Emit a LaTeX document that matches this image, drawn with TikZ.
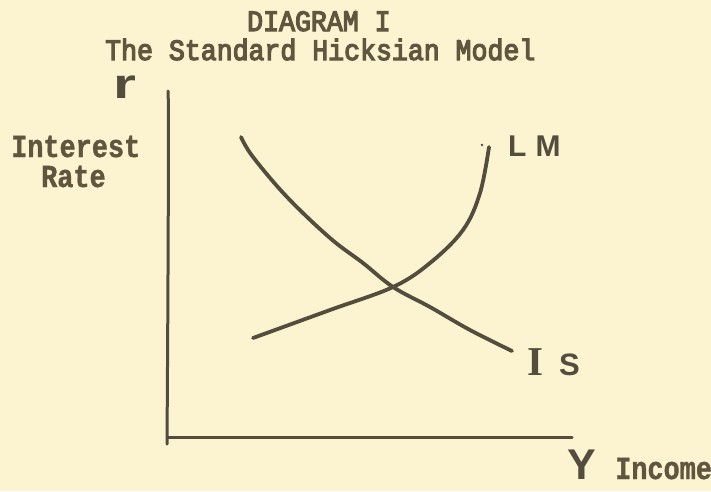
\documentclass[tikz,border=0pt]{standalone}
\usepackage{fontspec}
\newfontfamily\typew[FakeStretch=0.9,FakeBold=4]{Liberation Mono}
\newfontfamily\typewb[FakeStretch=0.84,FakeBold=1.2]{Liberation Mono}
\newfontfamily\hand{Liberation Sans}
\newfontfamily\handserif{Liberation Serif}
\definecolor{paper}{RGB}{252,244,208}
\definecolor{ink}{RGB}{84,76,60}
\definecolor{typeink}{RGB}{96,86,64}
\tikzset{
  typed/.style={inner sep=0pt, anchor=base west, text=typeink, font=\typew\fontsize{29.5}{30}\selectfont},
  boldtyped/.style={inner sep=0pt, anchor=base west, text=typeink, font=\typewb\bfseries\fontsize{32}{32}\selectfont},
  handlabel/.style={inner sep=0pt, anchor=base west, text=ink},
  axisline/.style={draw=ink, line width=3pt, line cap=round},
  curve/.style={draw=ink, line width=3.8pt, line cap=round}
}
\begin{document}
\begin{tikzpicture}[x=1pt,y=-1pt]
\fill[paper] (0,0) rectangle (711,491);
\useasboundingbox (0,0) rectangle (711,491);
% titles
\node[typed] (t1) at (247,31) {DIAGRAM I};
\node[typed] (t2) at (105,60) {The Standard Hicksian Model};
% axis labels
\node[boldtyped] (ir1) at (11,157) {Interest};
\node[boldtyped] (ir2) at (41,187) {Rate};
\node[boldtyped] (inc) at (615,479) {Income};
% handwritten labels
\node[handlabel, font=\hand\bfseries\fontsize{42}{42}\selectfont] (r) at (113,98) {\scalebox{1.4}[1]{r}};
\node[handlabel, font=\hand\bfseries\fontsize{43}{43}\selectfont] (y) at (567,479) {Y};
\node[handlabel, font=\hand\bfseries\fontsize{30}{30}\selectfont] (lm) at (508,156) {L\hspace{9pt}M};
\node[handlabel] (is) at (527,375) {{\handserif\bfseries\fontsize{41}{41}\selectfont I}\hspace{16pt}{\hand\bfseries\fontsize{31}{31}\selectfont S}};
% axes
\coordinate (ytop) at (168,91);
\coordinate (origin) at (168,437);
\coordinate (ybot) at (167,444);
\coordinate (xend) at (572,437);
\draw[axisline] (ytop) .. controls (169,95) and (168,300) .. (ybot);
\draw[axisline] (origin) -- (xend);
% IS curve
\draw[curve] plot[smooth, tension=0.6] coordinates {(241,137) (253,157) (287,197) (330,238) (363,263) (393,287) (430,307) (470,330) (512,351)};
% LM curve
\draw[curve] plot[smooth, tension=0.6] coordinates {(253,338) (330,310) (393,287) (430,263) (463,230) (480,193) (489,147)};
\fill[ink] (482,145) circle (1.3pt);
\end{tikzpicture}
\end{document}
